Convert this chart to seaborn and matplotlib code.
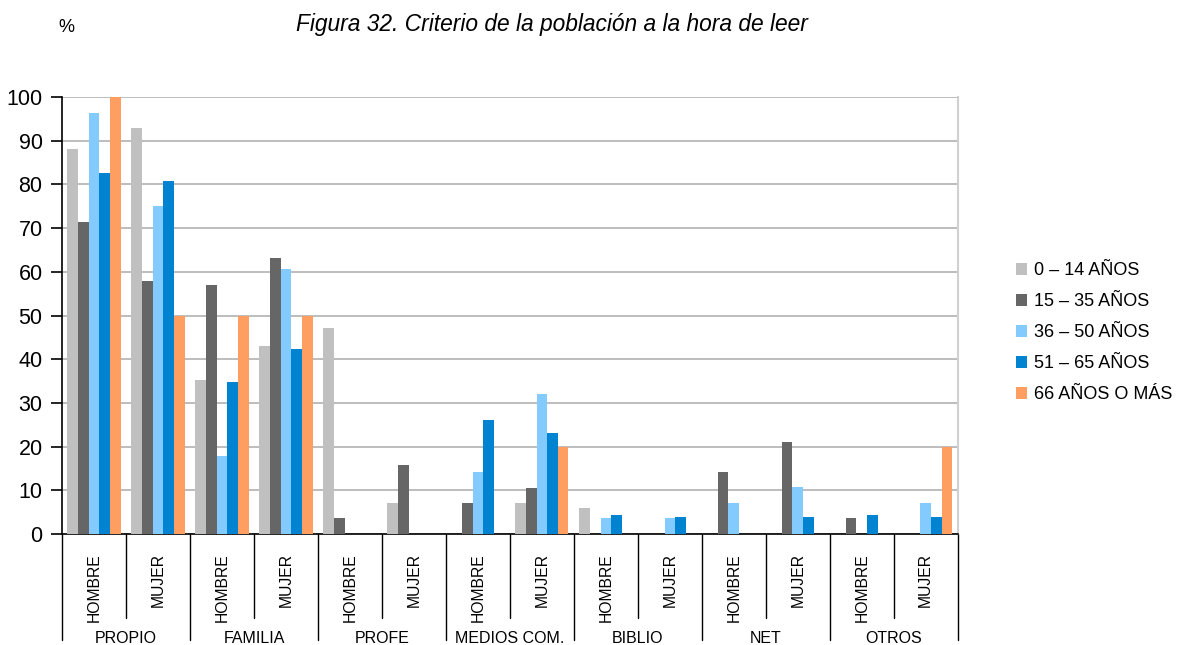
import seaborn as sns
import matplotlib.pyplot as plt
import matplotlib.transforms as mtransforms
import pandas as pd

# categories and sub-categories
categorias = ["PROPIO", "FAMILIA", "PROFE", "MEDIOS COM.", "BIBLIO", "NET", "OTROS"]
sexos = ["HOMBRE", "MUJER"]
edades = ["0 – 14 AÑOS", "15 – 35 AÑOS", "36 – 50 AÑOS", "51 – 65 AÑOS", "66 AÑOS O MÁS"]

# one list per age group, in order PROPIO-H, PROPIO-M, FAMILIA-H, ...
edad_0_14 = [88.0, 93.0, 35.3, 43.0, 47.1, 7.0, 0, 7.0, 5.9, 0, 0, 0, 0, 0]
edad_15_35 = [71.4, 57.9, 57.1, 63.2, 3.6, 15.8, 7.1, 10.5, 0, 0, 14.3, 21.1, 3.6, 0]
edad_36_50 = [96.4, 75.0, 17.9, 60.7, 0, 0, 14.3, 32.1, 3.6, 3.6, 7.1, 10.7, 0, 7.1]
edad_51_65 = [82.6, 80.8, 34.8, 42.3, 0, 0, 26.1, 23.1, 4.3, 3.8, 0, 3.8, 4.3, 3.8]
edad_66_mas = [100, 50, 50, 50, 0, 0, 0, 20, 0, 0, 0, 0, 0, 20]

colores = ["#c0c0c0", "#666666", "#83caff", "#0084d1", "#ff9e60"]

grupos = [f"{c}|{s}" for c in categorias for s in sexos]
series = [edad_0_14, edad_15_35, edad_36_50, edad_51_65, edad_66_mas]

rows = []
for edad, vals in zip(edades, series):
    for g, v in zip(grupos, vals):
        rows.append({"grupo": g, "edad": edad, "valor": v})
df = pd.DataFrame(rows)

sns.set_style("white")
plt.rcParams["font.family"] = ["Liberation Sans", "DejaVu Sans"]
plt.rcParams["text.color"] = "black"
plt.rcParams["ytick.labelcolor"] = "black"

fig = plt.figure(figsize=(11.77, 6.45), dpi=100)
ax = fig.add_axes([0.0527, 0.172, 0.761, 0.6776])

sns.barplot(data=df, x="grupo", y="valor", hue="edad", order=grupos,
            hue_order=edades, palette=colores, width=0.83, saturation=1,
            errorbar=None, linewidth=0, ax=ax, zorder=3)

ax.set_xlim(-0.5, len(grupos) - 0.5)
ax.set_ylim(0, 100)
ax.set_yticks(range(0, 101, 10))
ax.yaxis.grid(True, color="#b8b8b8", lw=1.3, zorder=0)
ax.set_axisbelow(True)
ax.tick_params(axis="y", labelsize=15.5, length=8, width=1.2, direction="out",
               left=True, color="black", labelcolor="black", pad=6)
ax.set_xticks([])
ax.set_xlabel("")
ax.set_ylabel("")
for s in ["left", "bottom"]:
    ax.spines[s].set_color("black")
    ax.spines[s].set_linewidth(1.2)
ax.spines["right"].set_color("#d0d0d0")
ax.spines["right"].set_linewidth(1.5)
ax.spines["top"].set_visible(False)

# two-level x axis labels
trans = mtransforms.blended_transform_factory(ax.transData, ax.transAxes)
for i in range(len(grupos) + 1):
    x = i - 0.5
    y_end = -0.243 if i % 2 == 0 else -0.192
    ax.plot([x, x], [0, y_end], color="black", lw=1.0, transform=trans, clip_on=False)
for i, g in enumerate(grupos):
    ax.text(i, -0.043, g.split("|")[1], rotation=90, ha="center", va="top",
            fontsize=11.3, color="black", transform=trans)
for j, c in enumerate(categorias):
    ax.text(2 * j + 0.5, -0.238, c, ha="center", va="center", fontsize=11.5,
            color="black", transform=trans)

leg = ax.legend(loc="center left", bbox_to_anchor=(0.849, 0.484), bbox_transform=fig.transFigure,
                frameon=False, fontsize=13, handlelength=0.65, handleheight=0.65,
                labelspacing=0.78, handletextpad=0.35)
for t in leg.get_texts():
    t.set_color("black")

fig.text(0.469, 0.962, "Figura 32. Criterio de la población a la hora de leer",
         ha="center", va="center", fontsize=16.4, style="italic", color="black")
fig.text(0.056, 0.958, "%", ha="center", va="center", fontsize=13, color="black")

fig.savefig("out.png", dpi=100)
